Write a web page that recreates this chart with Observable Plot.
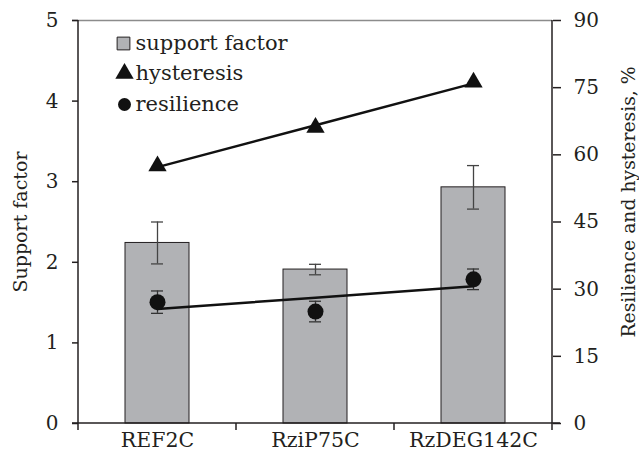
<!DOCTYPE html>
<html>
<head>
<meta charset="utf-8">
<script src="https://cdn.jsdelivr.net/npm/d3@7"></script>
<script src="https://cdn.jsdelivr.net/npm/@observablehq/plot@0.6"></script>
<style>
  html, body { margin: 0; padding: 0; background: #fff; }
  #chart { width: 639px; height: 452px; }
</style>
</head>
<body>
<div id="chart"></div>
<script>
// ---- data ----
const categories = ["REF2C", "RziP75C", "RzDEG142C"];
const supportFactor = [2.24, 1.91, 2.93];
const supportFactorErr = [0.26, 0.065, 0.27];
const hysteresis = [57.5, 66.1, 76.2];      // %
const resilience = [27.1, 25.0, 32.2];      // %
const resilienceErr = [2.5, 2.3, 2.3];      // %
const leftTicks = [0, 1, 2, 3, 4, 5];
const rightTicks = [0, 15, 30, 45, 60, 75, 90];
const legendLabels = ["support factor", "hysteresis", "resilience"];

// right axis (0–90 %) mapped onto the left axis (0–5)
const pctToY = v => v * 5 / 90;

// linear trend (least squares over category index)
function trend(vals) {
  const xs = vals.map((_, i) => i);
  const mx = d3.mean(xs), my = d3.mean(vals);
  const slope = d3.sum(xs, (x, i) => (x - mx) * (vals[i] - my)) / d3.sum(xs, x => (x - mx) ** 2);
  return xs.map(x => my + slope * (x - mx));
}
const hystFit = trend(hysteresis);
const resFit = trend(resilience);

const table = categories.map((c, i) => ({
  cat: c,
  sf: supportFactor[i], sfErr: supportFactorErr[i],
  hyst: hysteresis[i], hystFit: hystFit[i],
  res: resilience[i], resErr: resilienceErr[i], resFit: resFit[i]
}));

const dark = "#231f20";
const barGray = "#b1b2b5";

// axis frame lines + category boundary ticks drawn from scales/dimensions
function frameLines(index, scales, values, dims) {
  const g = d3.create("svg:g").attr("stroke", dark).attr("stroke-width", 1.5).attr("fill", "none");
  const L = dims.marginLeft, R = dims.width - dims.marginRight;
  const T = dims.marginTop, B = dims.height - dims.marginBottom;
  g.append("line").attr("x1", L).attr("x2", L).attr("y1", T).attr("y2", B + 7);
  g.append("line").attr("x1", R).attr("x2", R).attr("y1", T).attr("y2", B + 7);
  g.append("line").attr("x1", L - 6).attr("x2", R + 8).attr("y1", B).attr("y2", B);
  categories.slice(1).forEach(c => {
    const x = scales.x(c);
    g.append("line").attr("x1", x).attr("x2", x).attr("y1", B).attr("y2", B + 7);
  });
  return g.node();
}

const chart = Plot.plot({
  width: 639,
  height: 452,
  marginLeft: 78,
  marginRight: 87,
  marginTop: 20,
  marginBottom: 29,
  style: { fontFamily: "'DejaVu Serif', serif", fontSize: "20px", background: "#fff", color: dark },
  x: { domain: categories, padding: 0, label: null },
  y: { domain: [0, 5], label: null },
  marks: [
    Plot.ruleY([5], { stroke: "#8c8c8c", strokeWidth: 1.3, insetLeft: -6 }),
    // support factor bars
    Plot.barY(table, { x: "cat", y: "sf", fill: barGray, stroke: dark, strokeWidth: 1, insetLeft: 47, insetRight: 47 }),
    Plot.ruleX(table, { x: "cat", y1: d => d.sf - d.sfErr, y2: d => d.sf + d.sfErr, stroke: "#444", strokeWidth: 1.3 }),
    Plot.tickY(table, { x: "cat", y: d => d.sf + d.sfErr, stroke: "#444", strokeWidth: 1.3, insetLeft: 73, insetRight: 73 }),
    Plot.tickY(table, { x: "cat", y: d => d.sf - d.sfErr, stroke: "#444", strokeWidth: 1.3, insetLeft: 73, insetRight: 73 }),
    // hysteresis
    Plot.line(table, { x: "cat", y: d => pctToY(d.hystFit), stroke: "#111", strokeWidth: 2.5 }),
    Plot.dot(table, { x: "cat", y: d => pctToY(d.hyst), symbol: "triangle", fill: "#111", r: 6.8 }),
    // resilience
    Plot.ruleX(table, { x: "cat", y1: d => pctToY(d.res - d.resErr), y2: d => pctToY(d.res + d.resErr), stroke: "#333", strokeWidth: 1.3 }),
    Plot.tickY(table, { x: "cat", y: d => pctToY(d.res + d.resErr), stroke: "#333", strokeWidth: 1.3, insetLeft: 73, insetRight: 73 }),
    Plot.tickY(table, { x: "cat", y: d => pctToY(d.res - d.resErr), stroke: "#333", strokeWidth: 1.3, insetLeft: 73, insetRight: 73 }),
    Plot.line(table, { x: "cat", y: d => pctToY(d.resFit), stroke: "#111", strokeWidth: 2.5 }),
    Plot.dot(table, { x: "cat", y: d => pctToY(d.res), fill: "#111", r: 8 }),
    // axes
    Plot.axisY(leftTicks, { anchor: "left", tickFormat: d3.format("d"), tickSize: 6, tickPadding: 14, label: null, stroke: dark, strokeWidth: 1.5, fill: dark }),
    Plot.axisY(rightTicks.map(pctToY), { anchor: "right", tickFormat: d => String(Math.round(d * 90 / 5)), tickSize: 8, tickPadding: 13, label: null, stroke: dark, strokeWidth: 1.5, fill: dark }),
    Plot.axisX({ tickSize: 0, tickPadding: 9, label: null, fill: dark, fontSize: 20.5 }),
    frameLines,
    // axis titles
    Plot.text(["Support factor"], { frameAnchor: "left", rotate: -90, textAnchor: "middle", lineAnchor: "middle", dx: -58, dy: 0, fill: dark, fontSize: 19 }),
    Plot.text(["Resilience and hysteresis, %"], { frameAnchor: "right", rotate: -90, textAnchor: "middle", lineAnchor: "middle", dx: 76, dy: -20, fill: dark, fontSize: 18.8 }),
    // legend
    Plot.dot([legendLabels[0]], { frameAnchor: "top-left", dx: 45, dy: 23, symbol: "square", r: 7.2, fill: barGray, stroke: dark, strokeWidth: 1 }),
    Plot.dot([legendLabels[1]], { frameAnchor: "top-left", dx: 46, dy: 53, symbol: "triangle", r: 6.8, fill: "#111" }),
    Plot.dot([legendLabels[2]], { frameAnchor: "top-left", dx: 46, dy: 84, r: 6.5, fill: "#111" }),
    Plot.text([legendLabels[0]], { frameAnchor: "top-left", dx: 57, dy: 23, textAnchor: "start", lineAnchor: "middle", fill: dark, fontSize: 21 }),
    Plot.text([legendLabels[1]], { frameAnchor: "top-left", dx: 57, dy: 53, textAnchor: "start", lineAnchor: "middle", fill: dark, fontSize: 21 }),
    Plot.text([legendLabels[2]], { frameAnchor: "top-left", dx: 57, dy: 84, textAnchor: "start", lineAnchor: "middle", fill: dark, fontSize: 21 })
  ]
});
document.getElementById("chart").appendChild(chart);
</script>
</body>
</html>
